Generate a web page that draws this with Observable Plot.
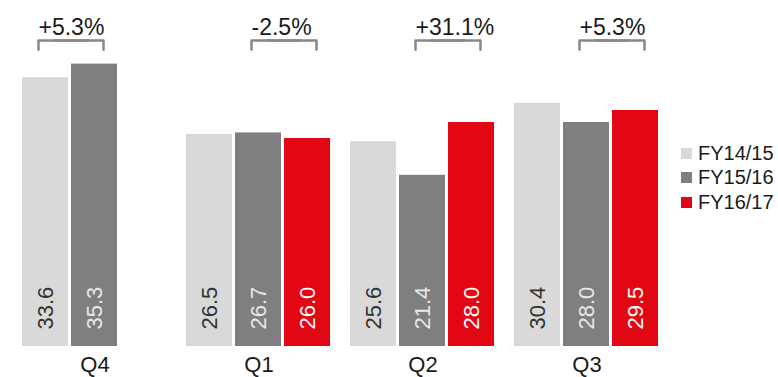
<!DOCTYPE html>
<html>
<head>
<meta charset="utf-8">
<script src="https://cdn.jsdelivr.net/npm/d3@7"></script>
<script src="https://cdn.jsdelivr.net/npm/@observablehq/plot@0.6"></script>
<style>
  html, body { margin: 0; padding: 0; background: #fff; }
  #wrap { position: relative; width: 778px; height: 377px; overflow: hidden; font-family: "Liberation Sans", Arial, sans-serif; }
  #legend { position: absolute; left: 681px; top: 141px; font-size: 20px; color: #1a1a1a; }
  #legend .row { display: flex; align-items: center; height: 24.5px; white-space: nowrap; }
  #legend .sw { width: 11px; height: 11px; margin-right: 6px; }
</style>
</head>
<body>
<div id="wrap"><div id="chart"></div><div id="legend"></div></div>
<script>
// ---- data ----
const quarters = ["Q4", "Q1", "Q2", "Q3"];
const seriesNames = ["FY14/15", "FY15/16", "FY16/17"];
const fy1415 = [33.6, 26.5, 25.6, 30.4];
const fy1516 = [35.3, 26.7, 21.4, 28.0];
const fy1617 = [null, 26.0, 28.0, 29.5];
const changeLabels = ["+5.3%", "-2.5%", "+31.1%", "+5.3%"];
const compareFrom = ["FY14/15", "FY15/16", "FY15/16", "FY15/16"];
const compareTo = ["FY15/16", "FY16/17", "FY16/17", "FY16/17"];

// ---- styles ----
const barColors = ["#d9d9d9", "#7f7f7f", "#e30613"];
const labelColors = ["#333333", "#e8e8e8", "#f7f7f7"];
const FONT = "Liberation Sans, Arial, sans-serif";
const BRACKET_TOP = 38.25, BRACKET_END = 37.1, CHANGE_Y = 39.0;

const seriesValues = [fy1415, fy1516, fy1617];
const rows = quarters.flatMap((q, i) =>
  seriesNames.map((s, j) => ({quarter: q, series: s, value: seriesValues[j][i]}))
).filter(d => d.value != null);

const leftPts = quarters.flatMap((q, i) => [
  {quarter: q, series: compareFrom[i], y: BRACKET_END},
  {quarter: q, series: compareFrom[i], y: BRACKET_TOP},
  {quarter: q, series: compareTo[i], y: BRACKET_TOP}
]);
const rightPts = quarters.flatMap((q, i) => [
  {quarter: q, series: compareFrom[i], y: BRACKET_TOP},
  {quarter: q, series: compareTo[i], y: BRACKET_TOP},
  {quarter: q, series: compareTo[i], y: BRACKET_END}
]);
const changeRows = quarters.map((q, i) => ({quarter: q, series: compareFrom[i], text: changeLabels[i]}));

const valueLabelMarks = seriesNames.map((s, j) =>
  Plot.text(rows.filter(d => d.series === s), {
    fx: "quarter", x: "series", y: 0, text: d => d.value.toFixed(1),
    rotate: -90, textAnchor: "start", dy: -17, fontSize: 22, fill: labelColors[j]
  })
);

const chart = Plot.plot({
  width: 778,
  height: 377,
  marginTop: 0,
  marginBottom: 31,
  marginLeft: 21,
  marginRight: 118,
  style: {fontFamily: FONT, fontSize: "22px", color: "#1a1a1a", background: "transparent"},
  fx: {domain: quarters, paddingInner: 0.104, paddingOuter: 0, label: null, axis: "bottom", tickSize: 0, tickPadding: 10},
  x: {domain: seriesNames, paddingInner: 0.061, paddingOuter: 0.03, axis: null},
  y: {domain: [0, 43.25], axis: null},
  color: {domain: seriesNames, range: barColors},
  marks: [
    Plot.barY(rows, {fx: "quarter", x: "series", y: "value", fill: "series"}),
    ...valueLabelMarks,
    Plot.line(leftPts, {fx: "quarter", x: "series", y: "y", z: "quarter", dx: -7, stroke: "#888", strokeWidth: 2.5, strokeLinejoin: "round"}),
    Plot.line(rightPts, {fx: "quarter", x: "series", y: "y", z: "quarter", dx: 9, stroke: "#888", strokeWidth: 2.5, strokeLinejoin: "round"}),
    Plot.text(changeRows, {fx: "quarter", x: "series", y: CHANGE_Y, text: "text", textAnchor: "start", lineAnchor: "bottom", dx: -7, fontSize: 23, fill: "#1a1a1a"})
  ]
});
document.getElementById("chart").appendChild(chart);

const legend = document.getElementById("legend");
seriesNames.forEach((s, j) => {
  const row = document.createElement("div");
  row.className = "row";
  const sw = document.createElement("span");
  sw.className = "sw";
  sw.style.background = barColors[j];
  const t = document.createElement("span");
  t.textContent = s;
  row.appendChild(sw);
  row.appendChild(t);
  legend.appendChild(row);
});
</script>
</body>
</html>
